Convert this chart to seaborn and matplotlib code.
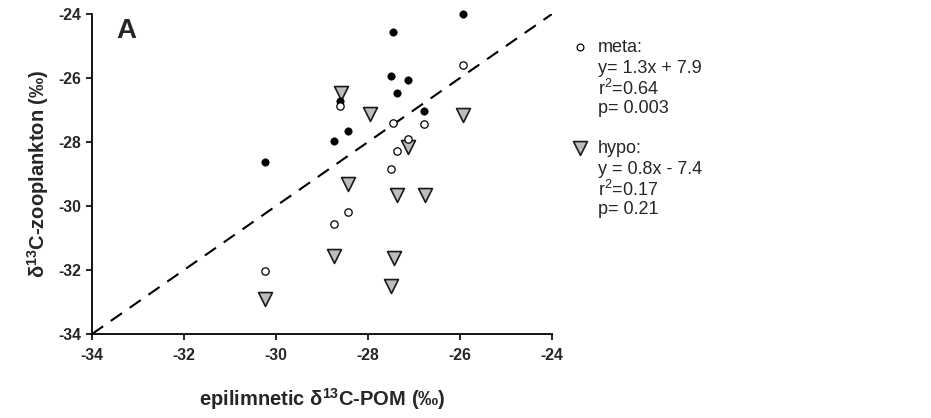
import matplotlib
matplotlib.use("Agg")
import matplotlib.pyplot as plt
import seaborn as sns
import pandas as pd

# ---- data ----
epi_x = [-25.93, -27.45, -27.50, -27.14, -27.37, -28.60, -26.78, -28.44, -28.75, -30.23]
epi_y = [-24.00, -24.56, -25.93, -26.05, -26.46, -26.72, -27.02, -27.67, -27.97, -28.61]

meta_x = [-25.93, -28.60, -27.45, -26.78, -27.14, -27.37, -27.50, -28.44, -28.75, -30.23]
meta_y = [-25.58, -26.88, -27.42, -27.44, -27.90, -28.28, -28.84, -30.19, -30.55, -32.02]

hypo_x = [-28.58, -27.95, -25.93, -27.13, -28.43, -27.36, -26.77, -28.73, -27.44, -27.49, -30.23]
hypo_y = [-26.48, -27.12, -27.16, -28.15, -29.31, -29.66, -29.67, -31.57, -31.64, -32.49, -32.90]

x_ticks = [-34, -32, -30, -28, -26, -24]
y_ticks = [-34, -32, -30, -28, -26, -24]

meta_legend = ["meta:", "y= 1.3x + 7.9", "r$^2$=0.64", "p= 0.003"]
hypo_legend = ["hypo:", "y = 0.8x - 7.4", "r$^2$=0.17", "p= 0.21"]

sns.set_theme(style="ticks")
plt.rcParams["font.family"] = ["Liberation Sans", "DejaVu Sans"]
plt.rcParams["mathtext.fontset"] = "custom"
plt.rcParams["mathtext.rm"] = "Liberation Sans"
plt.rcParams["mathtext.it"] = "Liberation Sans:italic"
plt.rcParams["mathtext.bf"] = "Liberation Sans:bold"

fig = plt.figure(figsize=(9.31, 4.18), dpi=100)
ax = fig.add_axes([92 / 931, 1 - 334 / 418, (552 - 92) / 931, (334 - 14) / 418])

df_epi = pd.DataFrame({"x": epi_x, "y": epi_y})
df_meta = pd.DataFrame({"x": meta_x, "y": meta_y})
df_hypo = pd.DataFrame({"x": hypo_x, "y": hypo_y})

ax.axline((0, 0), slope=1, color="black", lw=1.5, dashes=(6.5, 4.5), zorder=1)

sns.scatterplot(data=df_hypo, x="x", y="y", ax=ax, marker="v", s=100,
                color="#bdbdbd", edgecolor="#1a1a1a", linewidth=1.2, zorder=3,
                clip_on=False)
sns.scatterplot(data=df_epi, x="x", y="y", ax=ax, marker="o", s=28,
                color="black", edgecolor="black", linewidth=0.5, zorder=4,
                clip_on=False)
sns.scatterplot(data=df_meta, x="x", y="y", ax=ax, marker="o", s=28,
                color="white", edgecolor="black", linewidth=0.9, zorder=5,
                clip_on=False)

ax.set_xlim(-34, -24)
ax.set_ylim(-34, -24)
ax.set_xticks(x_ticks)
ax.set_yticks(y_ticks)
ax.set_xticklabels([str(t) for t in x_ticks], fontweight="bold", fontsize=11.3)
ax.set_yticklabels([str(t) for t in y_ticks], fontweight="bold", fontsize=11.3)
ax.tick_params(axis="both", direction="out", length=4, width=1.2, color="black")
ax.tick_params(axis="x", pad=6)
ax.tick_params(axis="y", pad=4)
for s in ["top", "right"]:
    ax.spines[s].set_visible(False)
for s in ["left", "bottom"]:
    ax.spines[s].set_linewidth(1.3)
    ax.spines[s].set_color("black")

ax.set_xlabel(r"epilimnetic $\mathbf{\delta^{13}}$C-POM (‰)", fontweight="bold",
              fontsize=14.5, labelpad=17)
ax.set_ylabel(r"$\mathbf{\delta^{13}}$C-zooplankton (‰)", fontweight="bold",
              fontsize=14.5, labelpad=5)

fig.text(116 / 931, 1 - 31 / 418, "A", fontsize=20,
         fontweight="bold", va="center", ha="left")

# legend block
line_h = 20.3
for i, t in enumerate(meta_legend):
    fig.text(598 / 931, 1 - (48 + i * line_h) / 418, t, fontsize=13, va="center", ha="left")
for i, t in enumerate(hypo_legend):
    fig.text(598 / 931, 1 - (149 + i * line_h) / 418, t, fontsize=13, va="center", ha="left")

leg_ax = fig.add_axes([0, 0, 1, 1], facecolor="none")
leg_ax.set_xlim(0, 931)
leg_ax.set_ylim(418, 0)
leg_ax.axis("off")
sns.scatterplot(x=[580], y=[47], ax=leg_ax, marker="o", s=24, color="white",
                edgecolor="black", linewidth=0.9)
sns.scatterplot(x=[580], y=[148], ax=leg_ax, marker="v", s=100, color="#bdbdbd",
                edgecolor="#1a1a1a", linewidth=1.2)

fig.savefig("out.png", dpi=100)
